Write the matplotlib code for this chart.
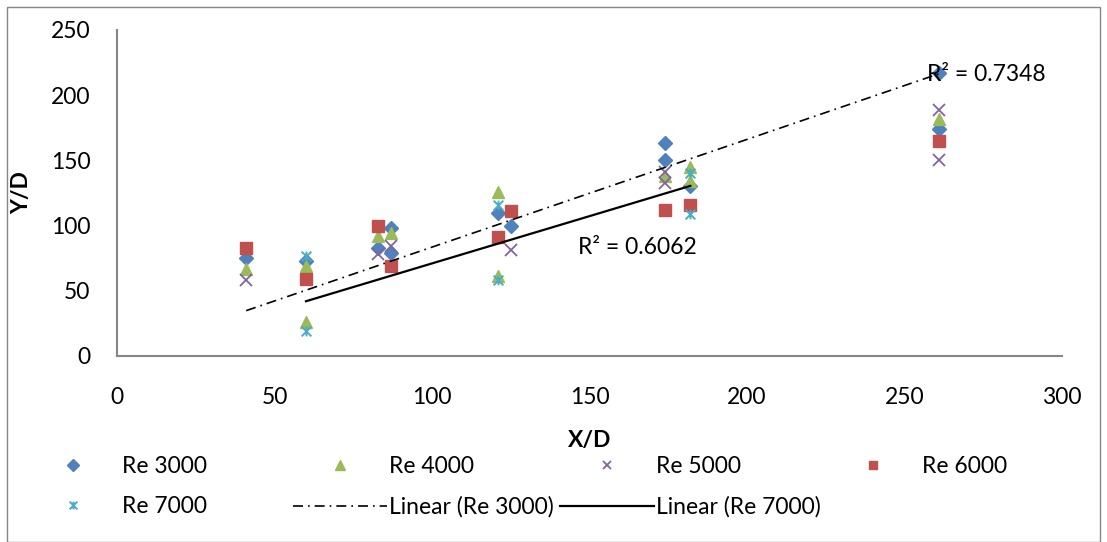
import numpy as np
import matplotlib
matplotlib.use("Agg")
import matplotlib.pyplot as plt
from matplotlib.path import Path
from matplotlib.patches import Rectangle

plt.rcParams['font.family'] = ['Lato', 'DejaVu Sans']

# data
x_3000 = [41, 60, 83, 87, 87, 121, 125, 174, 174, 182, 261, 261]
y_3000 = [75, 73, 83, 98, 79, 110, 100, 163, 150, 130, 217, 174]
x_4000 = [41, 60, 60, 83, 87, 121, 121, 174, 182, 182, 261]
y_4000 = [67, 69, 26, 92, 94, 126, 61, 138, 145, 134, 182]
x_5000 = [41, 83, 87, 125, 174, 174, 261, 261]
y_5000 = [58, 78, 84, 81, 141, 133, 189, 150]
x_6000 = [41, 60, 83, 87, 121, 125, 174, 182, 261]
y_6000 = [83, 59, 100, 69, 91, 111, 112, 116, 165]
x_7000 = [60, 60, 121, 121, 182, 182]
y_7000 = [77, 19, 116, 58, 140, 109]

# trend lines as shown on the chart (slope, intercept, r2)
fit_3000 = (0.826, 0.9, 0.7348)
fit_7000 = (0.725, -1.5, 0.6062)

blue = '#4F81BD'
green = '#9BBB59'
purple = '#8064A2'
red = '#C0504D'
cyan = '#4BACC6'

# excel style star: x with a vertical stroke
star = Path([(-1, -1), (1, 1), (-1, 1), (1, -1), (0, -1), (0, 1)],
            [Path.MOVETO, Path.LINETO, Path.MOVETO, Path.LINETO, Path.MOVETO, Path.LINETO])

W, H = 1107, 542
fig = plt.figure(figsize=(W / 100, H / 100), dpi=100)
ax = fig.add_axes([117 / W, 1 - 356 / H, (1062 - 117) / W, (356 - 30) / H])

s3 = ax.plot(x_3000, y_3000, 'D', color=blue, ms=7.5, mec=blue, ls='none', label='Re 3000')[0]
s4 = ax.plot(x_4000, y_4000, '^', color=green, ms=9, ls='none', label='Re 4000')[0]
s5 = ax.plot(x_5000, y_5000, 'x', color=purple, ms=8, mew=1.3, ls='none', label='Re 5000')[0]
s6 = ax.plot(x_6000, y_6000, 's', color=red, ms=8, ls='none', label='Re 6000')[0]
s7 = ax.plot(x_7000, y_7000, marker=star, color=cyan, ms=7, mew=1.4, mfc='none',
             ls='none', label='Re 7000')[0]

xx3 = np.array([min(x_3000), max(x_3000)])
l3 = ax.plot(xx3, fit_3000[0] * xx3 + fit_3000[1], color='black', lw=1.2,
             dashes=[6, 3, 1, 3], label='Linear (Re 3000)')[0]
xx7 = np.array([min(x_7000), max(x_7000)])
l7 = ax.plot(xx7, fit_7000[0] * xx7 + fit_7000[1], color='black', lw=1.6,
             label='Linear (Re 7000)')[0]

ax.text(257, 216, 'R² = %.4f' % fit_3000[2], fontsize=16.5, va='center', ha='left')
ax.text(146.5, 83, 'R² = %.4f' % fit_7000[2], fontsize=16.5, va='center', ha='left')

ax.set_xlim(0, 300)
ax.set_ylim(0, 250)
ax.set_xticks(np.arange(0, 301, 50))
ax.set_yticks(np.arange(0, 251, 50))
ax.tick_params(length=0, labelsize=16.5, colors='black')
ax.tick_params(axis='x', pad=22)
ax.tick_params(axis='y', pad=19)
for sp in ['top', 'right']:
    ax.spines[sp].set_visible(False)
for sp in ['left', 'bottom']:
    ax.spines[sp].set_color('#868686')
    ax.spines[sp].set_linewidth(1.5)

fig.text(590 / W, 1 - 440 / H, 'X/D', fontsize=16.5, fontweight='bold', ha='center', va='center')
fig.text(22 / W, 1 - 193 / H, 'Y/D', fontsize=16.5, fontweight='bold', ha='center',
         va='center', rotation=90)

# legend laid out in four columns like excel
cols = [([s3, s7], 118), ([s4, l3], 385), ([s5, l7], 652), ([s6], 918)]
for handles, tx in cols:
    fig.legend(handles=handles, loc='upper left', bbox_to_anchor=((tx - 92) / W, 1 - 456 / H),
               frameon=False, fontsize=16.5, handlelength=4.1, handletextpad=0.1,
               borderpad=0, borderaxespad=0, labelspacing=0.85, markerscale=0.8)

fig.patches.append(Rectangle((7 / W, 0), 1 - 14 / W, 1 - 7 / H, transform=fig.transFigure,
                             fill=False, edgecolor='#868686', lw=1))

fig.savefig('out.png', dpi=100)
